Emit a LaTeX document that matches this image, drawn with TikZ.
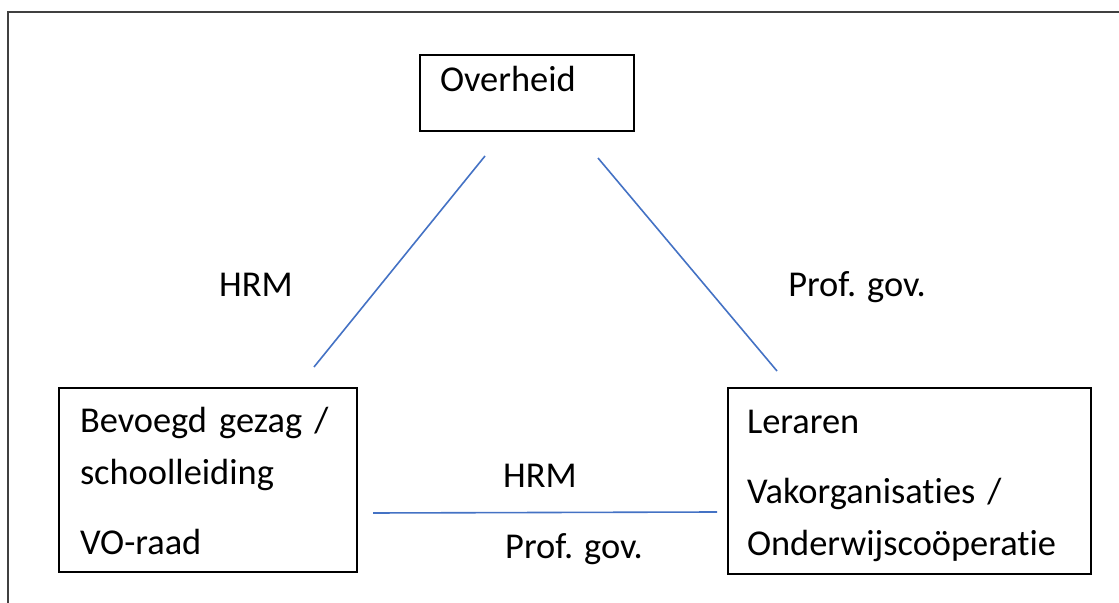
\documentclass[tikz,border=0pt]{standalone}
\usepackage{fontspec}
\setmainfont[Ligatures=NoCommon]{Carlito}
\usepackage{tikz}
\usetikzlibrary{calc}
\definecolor{linkblue}{HTML}{4472C4}
\definecolor{framegray}{HTML}{404040}

\begin{document}
\begin{tikzpicture}[x=0.5pt,y=-0.5pt,
  actor/.style={draw,line width=1pt,inner ysep=0pt,align=left,text height=13pt,font=\fontsize{18.2}{26}\selectfont},
  link/.style={linkblue,line width=0.8pt},
  tag/.style={anchor=base,inner sep=0pt,font=\fontsize{18.2}{26}\selectfont}]
\useasboundingbox (0,0) rectangle (1119,603);
\draw[framegray,line width=1.3pt] (8,603)--(8,12)--(1119,12);
% the three actors
\node[actor,minimum width=107pt,minimum height=38pt,inner xsep=10pt,text width=87pt,text depth=14pt] (over) at (527,93) {Overheid};
\node[actor,minimum width=149pt,minimum height=92pt,inner xsep=10.5pt,text width=128pt,text depth=60pt] (bevoegd) at (208,480) {Bevoegd gezag /\\ schoolleiding\\[9pt] VO-raad};
\node[actor,minimum width=181.5pt,minimum height=93pt,inner xsep=9.5pt,text width=162.5pt,text depth=60pt] (leraren) at (909.5,481) {Leraren\\[9pt] Vakorganisaties /\\ Onderwijscoöperatie};
% relations
\draw[link] ($(over.south west)+(66,24)$) -- ($(bevoegd.north west)+(256,-20)$);
\draw[link] ($(over.south west)+(179,26)$) -- ($(leraren.north west)+(50,-16)$);
\draw[link] ($(bevoegd.north east)+(15,126)$) -- ($(leraren.north west)+(-10,125)$);
\node[tag] (hrmleft) at (256,297) {HRM};
\node[tag] (profright) at (857,297) {Prof. gov.};
\node[tag] (hrmmid) at (540,488) {HRM};
\node[tag] (profmid) at (574,559) {Prof. gov.};
\end{tikzpicture}
\end{document}
